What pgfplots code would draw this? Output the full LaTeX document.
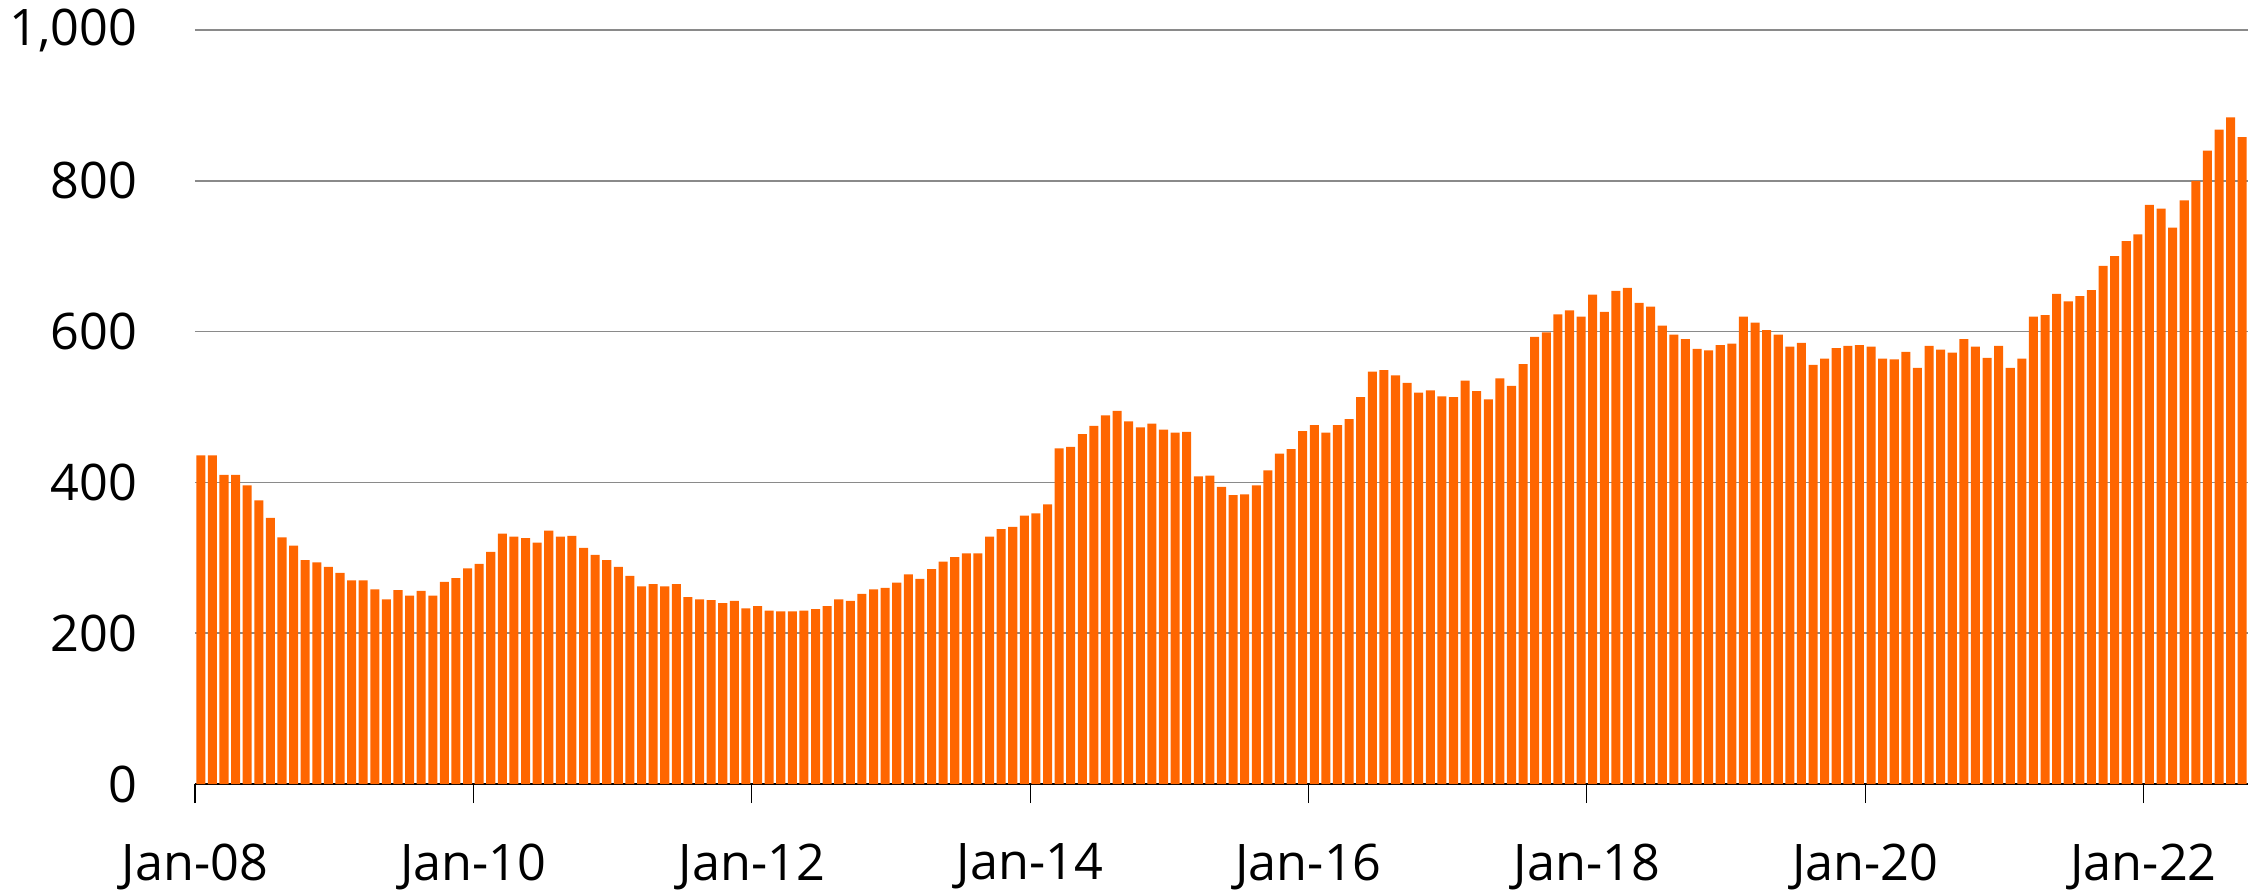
\documentclass[border=0pt]{standalone}
\usepackage{fontspec}
\setmainfont{Open Sans}
\usepackage{pgfplots}
\usepackage{pgfplotstable}
\pgfplotsset{compat=1.18}

\definecolor{barorange}{HTML}{FF6600}
\definecolor{gridgray}{HTML}{8A8A8A}

% monthly values, Jan-08 (m=0) to Sep-22 (m=176)
\pgfplotstableread[row sep=\\]{
m v \\
0 436 \\ 1 436 \\ 2 410 \\ 3 410 \\ 4 396 \\ 5 376 \\ 6 353 \\ 7 327 \\ 8 316 \\ 9 297 \\ 10 294 \\ 11 288 \\
12 280 \\ 13 270 \\ 14 270 \\ 15 258 \\ 16 245 \\ 17 257 \\ 18 250 \\ 19 256 \\ 20 250 \\ 21 268 \\ 22 273 \\ 23 286 \\
24 292 \\ 25 308 \\ 26 332 \\ 27 328 \\ 28 326 \\ 29 320 \\ 30 336 \\ 31 328 \\ 32 329 \\ 33 313 \\ 34 304 \\ 35 297 \\
36 288 \\ 37 276 \\ 38 262 \\ 39 265 \\ 40 262 \\ 41 265 \\ 42 248 \\ 43 245 \\ 44 244 \\ 45 240 \\ 46 243 \\ 47 233 \\
48 236 \\ 49 230 \\ 50 229 \\ 51 229 \\ 52 230 \\ 53 232 \\ 54 236 \\ 55 245 \\ 56 243 \\ 57 252 \\ 58 258 \\ 59 260 \\
60 267 \\ 61 278 \\ 62 272 \\ 63 285 \\ 64 295 \\ 65 301 \\ 66 306 \\ 67 306 \\ 68 328 \\ 69 338 \\ 70 341 \\ 71 356 \\
72 359 \\ 73 371 \\ 74 445 \\ 75 447 \\ 76 464 \\ 77 475 \\ 78 489 \\ 79 495 \\ 80 481 \\ 81 473 \\ 82 478 \\ 83 470 \\
84 466 \\ 85 467 \\ 86 408 \\ 87 409 \\ 88 394 \\ 89 383 \\ 90 384 \\ 91 396 \\ 92 416 \\ 93 438 \\ 94 444 \\ 95 468 \\
96 476 \\ 97 466 \\ 98 476 \\ 99 484 \\ 100 513 \\ 101 547 \\ 102 549 \\ 103 542 \\ 104 532 \\ 105 519 \\ 106 522 \\ 107 514 \\
108 513 \\ 109 535 \\ 110 521 \\ 111 510 \\ 112 538 \\ 113 528 \\ 114 557 \\ 115 593 \\ 116 599 \\ 117 623 \\ 118 628 \\ 119 620 \\
120 649 \\ 121 626 \\ 122 654 \\ 123 658 \\ 124 638 \\ 125 633 \\ 126 608 \\ 127 596 \\ 128 590 \\ 129 577 \\ 130 575 \\ 131 582 \\
132 584 \\ 133 620 \\ 134 612 \\ 135 602 \\ 136 596 \\ 137 580 \\ 138 585 \\ 139 556 \\ 140 564 \\ 141 578 \\ 142 581 \\ 143 582 \\
144 580 \\ 145 564 \\ 146 563 \\ 147 573 \\ 148 552 \\ 149 581 \\ 150 576 \\ 151 572 \\ 152 590 \\ 153 580 \\ 154 565 \\ 155 581 \\
156 552 \\ 157 564 \\ 158 620 \\ 159 622 \\ 160 650 \\ 161 640 \\ 162 647 \\ 163 655 \\ 164 687 \\ 165 700 \\ 166 720 \\ 167 729 \\
168 768 \\ 169 763 \\ 170 738 \\ 171 774 \\ 172 800 \\ 173 840 \\ 174 868 \\ 175 884 \\ 176 858 \\
}\monthly

\begin{document}
\begin{tikzpicture}
\begin{axis}[
    width=513.25pt, height=188.5pt, scale only axis,
    xmin=0, xmax=177, ymin=0, ymax=1000,
    axis x line*=bottom, axis y line*=left,
    y axis line style={draw=none},
    x axis line style={black, line width=0.3pt},
    xtick={0,24,...,168},
    xticklabels={Jan-08,Jan-10,Jan-12,Jan-14,Jan-16,Jan-18,Jan-20,Jan-22},
    ytick={0,200,...,1000},
    tick align=outside,
    major tick length=4.75pt,
    xtick style={black, line width=0.3pt},
    ytick style={draw=none},
    ymajorgrids,
    major grid style={gridgray, line width=0.4pt},
    /pgf/number format/assume math mode=true,
    /pgf/number format/1000 sep={,},
    ticklabel style={font=\fontsize{12.6}{15}\selectfont, inner sep=0pt},
    yticklabel style={anchor=east, xshift=-9.5pt},
    xticklabel style={anchor=north, yshift=-10pt},
]
\addplot[ybar, bar width=0.78, fill=barorange, draw=none]
    table[x expr=\thisrow{m}+0.5, y=v] {\monthly};
\coordinate (bl) at (rel axis cs:0,0);
\coordinate (tr) at (rel axis cs:1,1);
\end{axis}
\pgfresetboundingbox
\path[use as bounding box] ([xshift=-48.75pt,yshift=-26.25pt]bl) rectangle ([xshift=2.25pt,yshift=7.5pt]tr);
\end{tikzpicture}
\end{document}
